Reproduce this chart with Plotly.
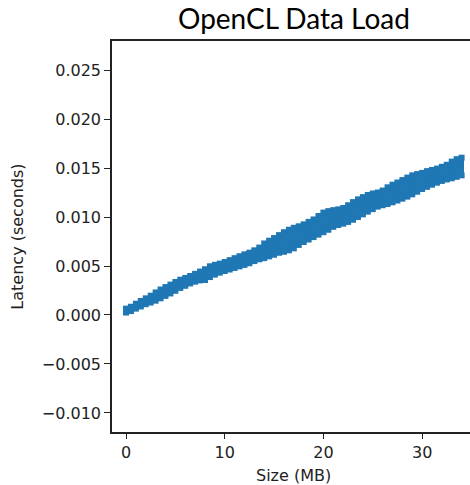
import plotly.graph_objects as go

# Size bins (MB)
size_mb = [0.0, 0.5, 1.0, 1.5, 2.0, 2.5, 3.0, 3.5, 4.0, 4.5, 5.0, 5.5, 6.0, 6.5, 7.0, 7.5,
           8.0, 8.5, 9.0, 9.5, 10.0, 10.5, 11.0, 11.5, 12.0, 12.5, 13.0, 13.5, 14.0, 14.5,
           15.0, 15.5, 16.0, 16.5, 17.0, 17.5, 18.0, 18.5, 19.0, 19.5, 20.0, 20.5, 21.0,
           21.5, 22.0, 22.5, 23.0, 23.5, 24.0, 24.5, 25.0, 25.5, 26.0, 26.5, 27.0, 27.5,
           28.0, 28.5, 29.0, 29.5, 30.0, 30.5, 31.0, 31.5, 32.0, 32.5, 33.0, 33.5, 34.0]

# Observed latency spread per size bin (milliseconds)
lat_min_ms = [0.25, 0.40, 0.65, 0.87, 1.10, 1.27, 1.46, 1.70, 1.95, 2.20, 2.47, 2.76, 2.98,
              3.22, 3.40, 3.53, 3.57, 3.87, 4.12, 4.32, 4.49, 4.64, 4.80, 4.96, 5.11, 5.28,
              5.50, 5.68, 5.80, 5.98, 6.15, 6.35, 6.45, 6.60, 6.80, 7.15, 7.45, 7.70, 7.95,
              8.20, 8.45, 8.70, 9.00, 9.18, 9.32, 9.50, 9.72, 10.00, 10.27, 10.55, 10.80,
              11.06, 11.20, 11.33, 11.50, 11.68, 11.87, 12.08, 12.31, 12.58, 12.86, 13.08,
              13.30, 13.50, 13.68, 13.83, 13.95, 14.10, 14.25]
lat_max_ms = [0.65, 0.84, 1.15, 1.43, 1.70, 1.97, 2.30, 2.60, 2.85, 3.10, 3.37, 3.60, 3.78,
              3.98, 4.20, 4.43, 4.67, 4.97, 5.12, 5.24, 5.41, 5.60, 5.80, 6.00, 6.19, 6.36,
              6.60, 6.88, 7.30, 7.58, 7.85, 8.15, 8.45, 8.70, 8.90, 9.05, 9.25, 9.50, 9.75,
              10.10, 10.45, 10.60, 10.70, 10.78, 10.92, 11.20, 11.52, 11.80, 12.03, 12.25,
              12.40, 12.50, 12.70, 13.03, 13.30, 13.52, 13.77, 14.02, 14.25, 14.38, 14.50,
              14.68, 14.80, 14.94, 15.12, 15.33, 15.65, 15.90, 16.05]

y_tick_vals = [-0.010, -0.005, 0.000, 0.005, 0.010, 0.015, 0.020, 0.025]
y_tick_text = ["\u22120.010", "\u22120.005", "0.000", "0.005", "0.010", "0.015", "0.020", "0.025"]
x_tick_vals = [0, 10, 20, 30]
x_tick_text = ["0", "10", "20", "30"]

lo = [v / 1000 for v in lat_min_ms]
hi = [v / 1000 for v in lat_max_ms]
span = [h - l for h, l in zip(hi, lo)]

BLUE = "#1f77b4"
fig = go.Figure()
fig.add_trace(go.Bar(x=size_mb, y=span, base=lo, width=0.5,
                     marker=dict(color=BLUE, line=dict(width=0)), showlegend=False))
for ys in (lo, hi):
    fig.add_trace(go.Scatter(x=size_mb, y=ys, mode="markers",
                             marker=dict(symbol="square", size=6, color=BLUE, line=dict(width=0)),
                             showlegend=False))

tick_font = dict(family="DejaVu Sans", size=16, color="#222222")
fig.update_layout(
    width=470, height=485,
    margin=dict(l=112, r=0, t=41, b=53),
    paper_bgcolor="white", plot_bgcolor="white",
    bargap=0,
    xaxis=dict(range=[-1.42, 34.85], tickvals=x_tick_vals, ticktext=x_tick_text,
               showgrid=False, zeroline=False, showline=True, linecolor="#222222",
               linewidth=1.5, mirror=True, ticks="outside", ticklen=5, tickwidth=1.2,
               tickcolor="#222222", tickfont=tick_font),
    yaxis=dict(range=[-0.01194, 0.02796], tickvals=y_tick_vals, ticktext=y_tick_text,
               showgrid=False, zeroline=False, showline=True, linecolor="#222222",
               linewidth=1.5, ticks="outside", ticklen=6, tickwidth=1.2,
               tickcolor="#222222", tickfont=tick_font),
    annotations=[
        dict(text="OpenCL Data Load", xref="paper", yref="paper", x=0.507, y=1.058,
             xanchor="center", yanchor="middle", showarrow=False,
             font=dict(family="Lato", size=28, color="#000000")),
        dict(text="Latency (seconds)", xref="paper", yref="paper", x=-0.265, y=0.5,
             xanchor="center", yanchor="middle", textangle=-90, showarrow=False,
             font=dict(family="DejaVu Sans", size=16, color="#222222")),
        dict(text="Size (MB)", xref="paper", yref="paper", x=0.506, y=-0.11,
             xanchor="center", yanchor="middle", showarrow=False,
             font=dict(family="DejaVu Sans", size=16, color="#222222")),
    ],
)

fig.write_html("out.html")
